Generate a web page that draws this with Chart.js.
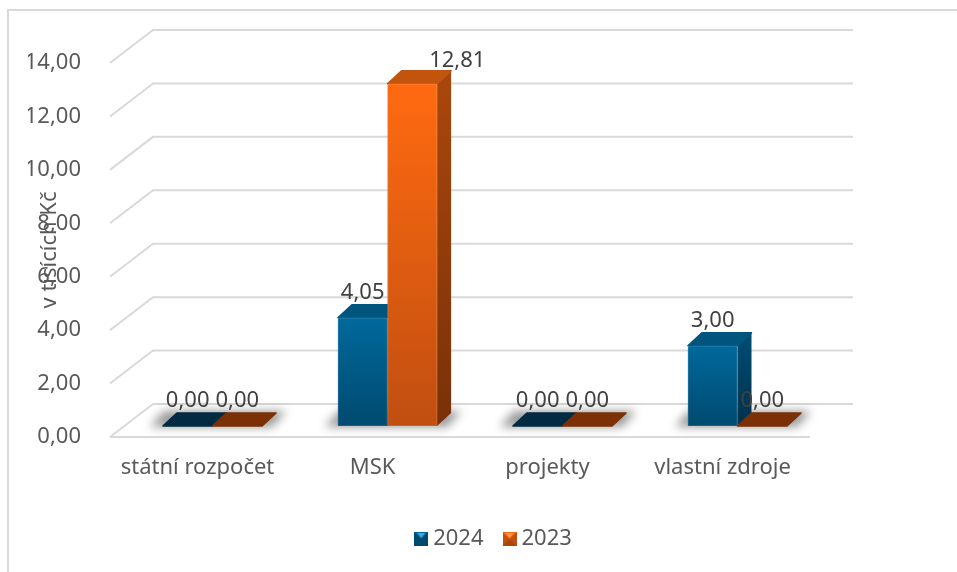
<!DOCTYPE html>
<html>
<head>
<meta charset="utf-8">
<title>v tisících Kč</title>
<script src="https://cdn.jsdelivr.net/npm/chart.js@4/dist/chart.umd.min.js"></script>
<style>
    html, body { margin: 0; padding: 0; background: #fff; overflow: hidden; }
    #frame { position: absolute; left: 7px; top: 9px; width: 960px; height: 580px; border: 2px solid #d9d9d9; box-sizing: border-box; }
    #wrap { position: absolute; left: 0; top: 0; width: 957px; height: 572px; }
</style>
</head>
<body>
<div id="frame"></div>
<div id="wrap"><canvas id="chart"></canvas></div>
<script>
const categories = ['státní rozpočet', 'MSK', 'projekty', 'vlastní zdroje'];
const values2024 = [0, 4.05, 0, 3];
const values2023 = [0, 12.81, 0, 0];
const seriesNames = ['2024', '2023'];
const yMax = 14;
const yStep = 2;

const fontName = "'Noto Sans', sans-serif";
const gridColor = '#d9d9d9';

// front, side and top colours of each series
const palette = [
    { front: ['#00699c', '#004a70'], side: ['#004a70', '#00304a'], top: '#00557f', flat: '#012b42' },
    { front: ['#ff6a10', '#c04f10'], side: ['#a8470b', '#7a3008'], top: '#c2540e', flat: '#7b3006' }
];

const wall = { dx: 43, dy: -33 };     // back wall offset
const shift = { dx: 15, dy: -11 };    // bars stand on the middle of the floor
const depth = { dx: 14, dy: -13 };    // bar depth

function formatValue(v) {
    return v.toFixed(2).replace('.', ',');
}

function poly(ctx, pts, fill) {
    ctx.beginPath();
    pts.forEach((p, i) => i ? ctx.lineTo(p[0], p[1]) : ctx.moveTo(p[0], p[1]));
    ctx.closePath();
    ctx.fillStyle = fill;
    ctx.fill();
}

function legendIcon(colors) {
    const c = document.createElement('canvas');
    c.width = 14;
    c.height = 14;
    const g = c.getContext('2d');
    g.fillStyle = colors.front[1];
    g.fillRect(0, 0, 14, 14);
    poly(g, [[0, 0], [14, 0], [7, 7]], colors.front[0]);
    poly(g, [[3, 1], [11, 1], [7, 6]], colors === palette[0] ? '#3fa9dc' : '#ff9a4a');
    poly(g, [[0, 14], [14, 14], [7, 7]], colors.side[0]);
    return c;
}
const legendIcons = palette.map(legendIcon);

function faceGradient(ctx) {
    const chart = ctx.chart;
    if (!chart.chartArea || ctx.parsed === undefined) return palette[ctx.datasetIndex].front[0];
    const y = chart.scales.y;
    const g = chart.ctx.createLinearGradient(0, y.getPixelForValue(ctx.parsed.y), 0, y.getPixelForValue(0));
    g.addColorStop(0, palette[ctx.datasetIndex].front[0]);
    g.addColorStop(1, palette[ctx.datasetIndex].front[1]);
    return g;
}

const scene3d = {
    id: 'scene3d',
    afterLayout(chart) {
        // legend sits right of the canvas centre, like in the original
        const lg = chart.legend;
        lg.left += 77;
        lg.right += 77;
    },
    beforeDatasetsDraw(chart) {
        const { ctx, scales, chartArea } = chart;
        const y = scales.y;

        // walls and floor lines
        ctx.save();
        ctx.strokeStyle = gridColor;
        ctx.lineWidth = 2;
        y.ticks.forEach(t => {
            const py = y.getPixelForValue(t.value);
            ctx.beginPath();
            ctx.moveTo(chartArea.left, py);
            ctx.lineTo(chartArea.left + wall.dx, py + wall.dy);
            ctx.lineTo(chartArea.right + wall.dx, py + wall.dy);
            ctx.stroke();
        });
        const y0 = y.getPixelForValue(0);
        ctx.beginPath();
        ctx.moveTo(chartArea.left, y0);
        ctx.lineTo(chartArea.right, y0);
        ctx.stroke();
        ctx.restore();

        ctx.save();
        ctx.translate(shift.dx, shift.dy);

        // soft shadow under each group
        const m0 = chart.getDatasetMeta(0).data;
        const m1 = chart.getDatasetMeta(1).data;
        ctx.save();
        ctx.filter = 'blur(5px)';
        m0.forEach((bar, i) => {
            const l = bar.x - bar.width / 2 - 13;
            const r = m1[i].x + m1[i].width / 2 + 10;
            const b = y0 + 1;
            const t = y0 + depth.dy - 2;
            poly(ctx, [[l, b], [l + depth.dx, t], [r + depth.dx, t], [r, b]], 'rgba(0,0,0,0.4)');
        });
        ctx.restore();

        // side and top faces, the fronts come from the library afterwards
        ctx.lineJoin = 'round';
        ctx.lineWidth = 1.5;
        [0, 1].forEach(d => {
            chart.getDatasetMeta(d).data.forEach((bar, i) => {
                const c = palette[d];
                const l = bar.x - bar.width / 2;
                const r = bar.x + bar.width / 2;
                const top = bar.y;
                const base = bar.base;
                const flat = chart.data.datasets[d].data[i] === 0;
                if (!flat) {
                    const g = ctx.createLinearGradient(0, top, 0, base);
                    g.addColorStop(0, c.side[0]);
                    g.addColorStop(1, c.side[1]);
                    poly(ctx, [[r, top], [r + depth.dx, top + depth.dy], [r + depth.dx, base + depth.dy], [r, base]], g);
                }
                poly(ctx, [[l, top], [l + depth.dx, top + depth.dy], [r + depth.dx, top + depth.dy], [r, top]], flat ? c.flat : c.top);
                ctx.strokeStyle = flat ? c.flat : c.top;
                ctx.stroke();
            });
        });
    },
    afterDatasetsDraw(chart) {
        const { ctx } = chart;

        // faint bevel round the fronts
        ctx.strokeStyle = 'rgba(255,255,255,0.12)';
        ctx.lineWidth = 1;
        [0, 1].forEach(d => {
            chart.getDatasetMeta(d).data.forEach(bar => {
                if (bar.base - bar.y < 1) return;
                ctx.strokeRect(bar.x - bar.width / 2 + 0.5, bar.y + 0.5, bar.width - 1, bar.base - bar.y - 1);
            });
        });
        ctx.restore();

        // value labels
        ctx.save();
        ctx.font = '22px ' + fontName;
        ctx.fillStyle = '#404040';
        ctx.textAlign = 'center';
        ctx.textBaseline = 'middle';
        [0, 1].forEach(d => {
            chart.getDatasetMeta(d).data.forEach((bar, i) => {
                const v = chart.data.datasets[d].data[i];
                // the tall label was dragged aside in the original
                const moved = v === Math.max(...values2023);
                const lift = moved ? 23 : 25;
                ctx.fillText(formatValue(v), bar.x + shift.dx + (moved ? 45 : 0), bar.y + shift.dy - lift);
            });
        });
        ctx.restore();
    }
};

new Chart(document.getElementById('chart'), {
    type: 'bar',
    data: {
        labels: categories,
        datasets: [
            { label: seriesNames[0], data: values2024, backgroundColor: faceGradient, borderRadius: 2, clip: false },
            { label: seriesNames[1], data: values2023, backgroundColor: faceGradient, borderRadius: 2, clip: false }
        ]
    },
    options: {
        responsive: true,
        maintainAspectRatio: false,
        animation: false,
        layout: { padding: { left: 28, top: 63, right: 147, bottom: 12 } },
        datasets: { bar: { categoryPercentage: 0.567, barPercentage: 1 } },
        plugins: {
            tooltip: { enabled: false },
            legend: {
                position: 'bottom',
                labels: {
                    usePointStyle: true,
                    boxWidth: 2,
                    padding: 25,
                    color: '#595959',
                    font: { family: fontName, size: 22 },
                    generateLabels(chart) {
                        return Chart.defaults.plugins.legend.labels.generateLabels(chart)
                            .map((item, i) => ({ ...item, pointStyle: legendIcons[i] }));
                    }
                }
            }
        },
        scales: {
            x: {
                grid: { display: false },
                border: { display: false },
                afterFit(scale) { scale.height = 66; },
                ticks: {
                    color: '#595959',
                    padding: 10,
                    maxRotation: 0,
                    autoSkip: false,
                    font: { family: fontName, size: 22 }
                }
            },
            y: {
                min: 0,
                max: yMax,
                grid: { display: false },
                border: { display: false },
                afterFit(scale) { scale.width = 82; },
                ticks: {
                    stepSize: yStep,
                    color: '#595959',
                    padding: 21,
                    font: { family: fontName, size: 22 },
                    callback: value => formatValue(value)
                },
                title: {
                    display: true,
                    text: 'v tisících Kč',
                    color: '#595959',
                    font: { family: fontName, size: 22 },
                    padding: { top: 9, bottom: 0 }
                }
            }
        }
    },
    plugins: [scene3d]
});
</script>
</body>
</html>
